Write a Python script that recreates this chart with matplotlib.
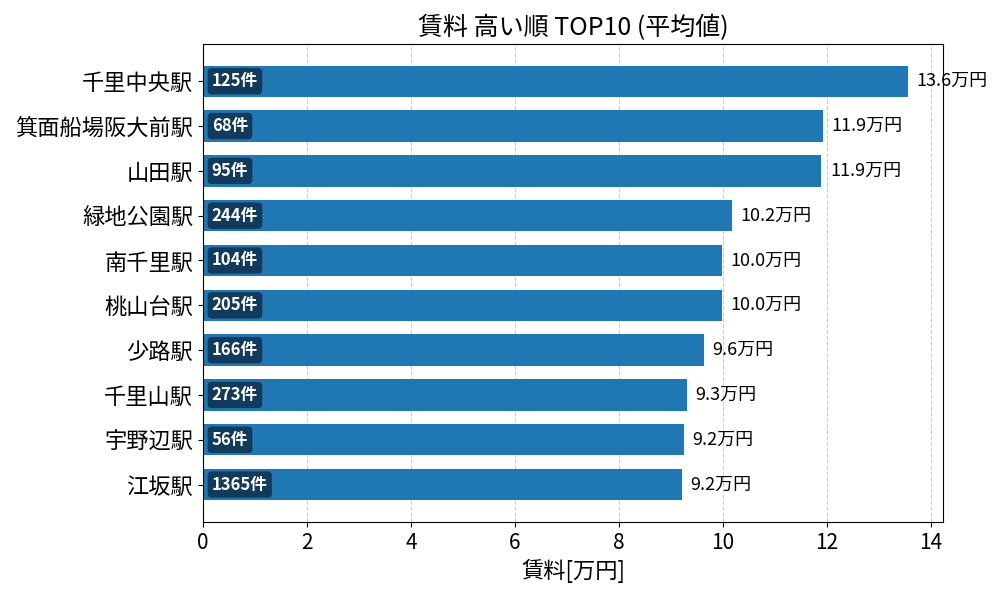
import matplotlib
matplotlib.use("Agg")
import matplotlib.pyplot as plt

plt.rcParams['font.family'] = ['Noto Sans CJK JP', 'DejaVu Sans']

# data (top to bottom)
stations = ["千里中央駅", "箕面船場阪大前駅", "山田駅", "緑地公園駅", "南千里駅",
            "桃山台駅", "少路駅", "千里山駅", "宇野辺駅", "江坂駅"]
rent = [13.56, 11.92, 11.90, 10.17, 9.98, 9.98, 9.63, 9.31, 9.25, 9.21]
counts = [125, 68, 95, 244, 104, 205, 166, 273, 56, 1365]

fig, ax = plt.subplots(figsize=(10, 6), dpi=100)
fig.subplots_adjust(left=0.203, right=0.943, top=0.927, bottom=0.13)

ypos = list(range(len(stations)))
ax.barh(ypos, rent, height=0.7, color='#1f77b4', zorder=2)
ax.set_yticks(ypos)
ax.set_yticklabels(stations, fontsize=16)
ax.invert_yaxis()
ax.set_xlim(0, max(rent) * 1.05)
ax.tick_params(axis='x', labelsize=15)
ax.grid(axis='x', linestyle='--', color='#cccccc', zorder=0)
ax.set_axisbelow(True)

for y, v, c in zip(ypos, rent, counts):
    ax.text(v + 0.17, y, f"{v:.1f}万円", va='center', ha='left', fontsize=13)
    ax.text(0.17, y, f"{c}件", va='center', ha='left', fontsize=12,
            color='white', fontweight='bold',
            bbox=dict(boxstyle='round,pad=0.25', fc='#113a5c', ec='none'))

ax.set_title("賃料 高い順 TOP10 (平均値)", fontsize=18)
ax.set_xlabel("賃料[万円]", fontsize=16)

fig.savefig("out.png")
